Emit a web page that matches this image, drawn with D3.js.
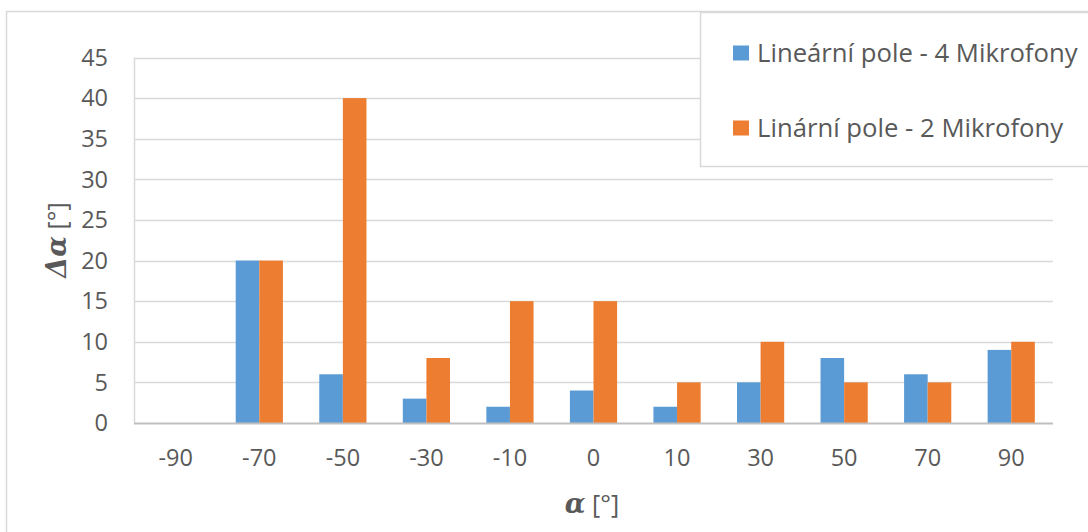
<!DOCTYPE html>
<html><head><meta charset="utf-8">
<script src="https://cdn.jsdelivr.net/npm/d3@7"></script>
<style>body{margin:0;background:#fff}svg{display:block}</style>
</head><body>
<svg id="c" width="1088" height="532"></svg>
<script>
const categories = ["-90","-70","-50","-30","-10","0","10","30","50","70","90"];
const series4 = [0,20,6,3,2,4,2,5,8,6,9];
const series2 = [0,20,40,8,15,15,5,10,5,5,10];
const seriesNames = ["Lineární pole - 4 Mikrofony","Linární pole - 2 Mikrofony"];
const colors = ["#5B9BD5","#ED7D31"];
const yTicks = [0,5,10,15,20,25,30,35,40,45];

const FONT = "'Open Sans', sans-serif";
const TXT = "#595959";
const svg = d3.select("#c");
svg.append("rect").attr("width",1088).attr("height",532).attr("fill","#fff");
svg.append("rect").attr("x",6.5).attr("y",11.5).attr("width",1200).attr("height",600)
  .attr("fill","none").attr("stroke","#D9D9D9").attr("stroke-width",1.5);

const L=134, R=1053, B=423, T=57.5;
const x = d3.scaleBand().domain(categories).range([L,R]).padding(0);
const y = d3.scaleLinear().domain([0,45]).range([B,T]);
const gw = x.bandwidth()*0.565;
const x1 = d3.scaleBand().domain([0,1]).range([(x.bandwidth()-gw)/2,(x.bandwidth()+gw)/2]).padding(0);

// gridlines
svg.append("g").selectAll("line").data(yTicks.filter(d=>d>0)).join("line")
  .attr("x1",L).attr("x2",R).attr("y1",d=>Math.round(y(d))+0.5).attr("y2",d=>Math.round(y(d))+0.5)
  .attr("stroke","#D9D9D9").attr("stroke-width",1.5);
svg.append("line").attr("x1",L+0.5).attr("x2",L+0.5).attr("y1",T).attr("y2",B)
  .attr("stroke","#D9D9D9").attr("stroke-width",1.5);

// bars
const data = categories.map((c,i)=>({c, v:[series4[i],series2[i]]}));
const g = svg.append("g");
data.forEach(d=>{
  d.v.forEach((v,k)=>{
    if(v<=0) return;
    g.append("rect").attr("x",x(d.c)+x1(k)).attr("width",x1.bandwidth())
      .attr("y",y(v)).attr("height",y(0)-y(v)).attr("fill",colors[k]);
  });
});

// bottom axis line
svg.append("line").attr("x1",L).attr("x2",R).attr("y1",B+0.5).attr("y2",B+0.5)
  .attr("stroke","#BFBFBF").attr("stroke-width",2);

// y tick labels
svg.append("g").selectAll("text").data(yTicks).join("text")
  .attr("x",108).attr("y",d=>y(d)).attr("dy","0.35em").attr("text-anchor","end")
  .attr("font-family",FONT).attr("font-size",23.5).attr("fill",TXT).text(d=>d);
// x tick labels
svg.append("g").selectAll("text").data(categories).join("text")
  .attr("x",d=>x(d)+x.bandwidth()/2).attr("y",458).attr("dy","0.35em").attr("text-anchor","middle")
  .attr("font-family",FONT).attr("font-size",23.5).attr("fill",TXT).text(d=>d);

// axis titles
const yt = svg.append("text").attr("transform","translate(57,240) rotate(-90)")
  .attr("text-anchor","middle").attr("dy","0.35em").attr("fill",TXT).attr("font-size",27);
yt.append("tspan").attr("font-family","'DejaVu Serif', serif").attr("font-weight","bold").attr("font-style","italic").text("Δα");
yt.append("tspan").attr("font-family",FONT).attr("font-size",25).text(" [°]");
const xt = svg.append("text").attr("x",592).attr("y",504)
  .attr("text-anchor","middle").attr("dy","0.35em").attr("fill",TXT).attr("font-size",27);
xt.append("tspan").attr("font-family","'DejaVu Serif', serif").attr("font-weight","bold").attr("font-style","italic").text("α");
xt.append("tspan").attr("font-family",FONT).attr("font-size",25).text(" [°]");

// legend
svg.append("rect").attr("x",700.5).attr("y",12.5).attr("width",420).attr("height",154)
  .attr("fill","#fff").attr("stroke","#D9D9D9").attr("stroke-width",1.5);
const ly=[53,128];
seriesNames.forEach((n,i)=>{
  svg.append("rect").attr("x",733).attr("y",ly[i]-7.5).attr("width",16).attr("height",15).attr("fill",colors[i]);
  svg.append("text").attr("x",757).attr("y",ly[i]).attr("dy","0.35em")
    .attr("font-family",FONT).attr("font-size",25.7).attr("fill",TXT).text(n);
});
</script>
</body></html>
